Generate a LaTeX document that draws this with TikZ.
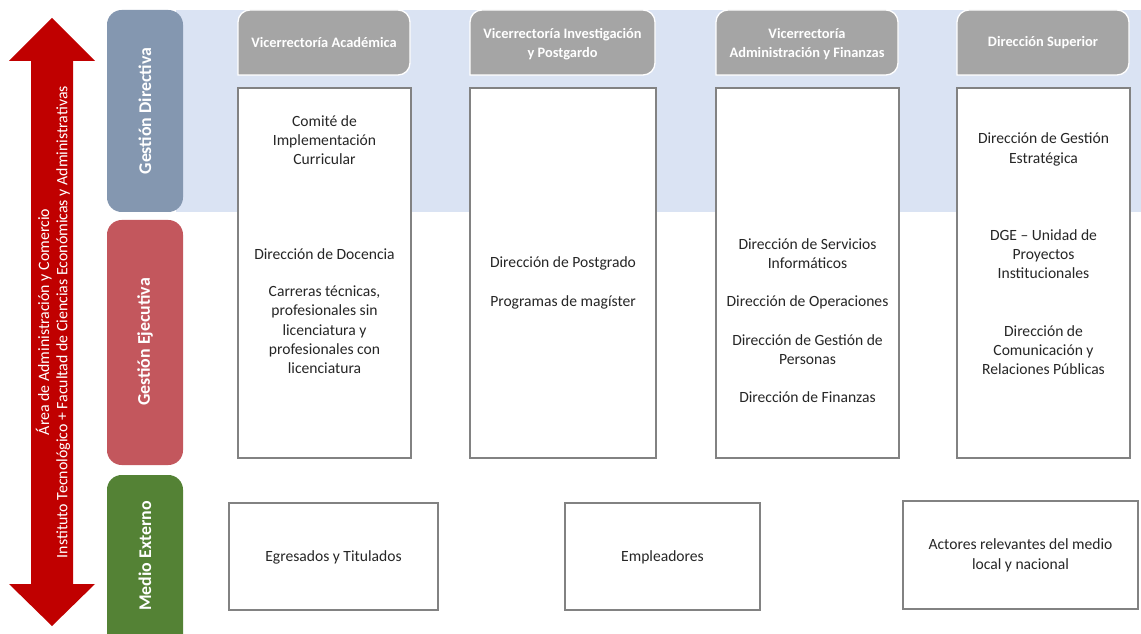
\documentclass[tikz,border=0pt]{standalone}
\usepackage{fontspec}
\setmainfont{Carlito}
\definecolor{bandblue}{RGB}{218,227,243}
\definecolor{dirblue}{RGB}{132,151,176}
\definecolor{ejered}{RGB}{195,87,93}
\definecolor{extgreen}{RGB}{84,130,53}
\definecolor{arrowred}{RGB}{192,0,0}
\definecolor{headgray}{RGB}{165,165,165}
\definecolor{boxgray}{RGB}{130,130,130}
\tikzstyle{sidebox}=[
        rounded corners=11
]
\tikzstyle{headbox}=[
        fill=headgray,
        draw=white,
        line width=1pt
]
\tikzstyle{unitbox}=[
        draw=boxgray,
        fill=white,
        line width=0.9pt
]
\tikzstyle{unittext}=[align=center, text=black!85, font=\fontsize{11.7}{14.5}\selectfont]
\tikzstyle{headtext}=[align=center, text=white, font=\fontsize{10.8}{14.2}\selectfont\bfseries]
\tikzstyle{sidetext}=[rotate=90, text=white, font=\fontsize{13.4}{15}\selectfont\bfseries]

\begin{document}
\begin{tikzpicture}[x=0.75pt, y=-0.75pt]
                    \useasboundingbox (0,0) rectangle (1141,634);
                    \clip (0,0) rectangle (1141,634);

                    % band of the Gestion Directiva level
                    \fill[bandblue] (176,10) rectangle (1141,212);

                    % levels
                    \fill[sidebox, dirblue] (107,10) rectangle (183,212);
                    \fill[sidebox, ejered] (107,220) rectangle (183,465);
                    \fill[sidebox, extgreen] (107,475) rectangle (183,660);
                    \node[sidetext] (directiva) at (145,111) {Gestión Directiva};
                    \node[sidetext] (ejecutiva) at (145,342) {Gestión Ejecutiva};
                    \node[sidetext] (externo) at (145,556) {Medio Externo};

                    % double arrow
                    \fill[arrowred] (52,18) -- (95,61) -- (73,61) -- (73,584) -- (95,584)
                        -- (52,626) -- (9,584) -- (31,584) -- (31,61) -- (9,61) -- cycle;
                    \node[rotate=90, align=center, text=white, font=\fontsize{11.9}{13.6}\selectfont] (area) at (53,322)
                        {Área de Administración y Comercio\\Instituto Tecnológico + Facultad de Ciencias Económicas y Administrativas};

                    % headers
                    \foreach \xa/\xb in {238/410,470/655,716/898,957/1129} {
                        \path[headbox] (\xa,75) [rounded corners=9] -- (\xa,10) -- (\xb,10) -- (\xb,75) [sharp corners] -- cycle;
                    }
                    \node[headtext] (vra) at (324,43) {Vicerrectoría Académica};
                    \node[headtext] (vrip) at (562.5,44.5) {Vicerrectoría Investigación\\y Postgardo};
                    \node[headtext] (vraf) at (807,44.5) {Vicerrectoría\\Administración y Finanzas};
                    \node[headtext] (dsup) at (1043,43) {Dirección Superior};

                    % units
                    \draw[unitbox] (238,88) rectangle (411,458);
                    \draw[unitbox] (470,88) rectangle (656,458);
                    \draw[unitbox] (716,88) rectangle (899,458);
                    \draw[unitbox] (957,88) rectangle (1130,458);

                    \node[unittext] (cic) at (324.5,140) {Comité de\\Implementación\\Curricular};
                    \node[unittext] (ddoc) at (324.5,254) {Dirección de Docencia};
                    \node[unittext] (carr) at (324.5,330) {Carreras técnicas,\\profesionales sin\\licenciatura y\\profesionales con\\licenciatura};

                    \node[unittext] (dpos) at (563,263) {Dirección de Postgrado};
                    \node[unittext] (pmag) at (563,302) {Programas de magíster};

                    \node[unittext] (dsi) at (807.5,253.5) {Dirección de Servicios\\Informáticos};
                    \node[unittext] (dop) at (807.5,302) {Dirección de Operaciones};
                    \node[unittext] (dgp) at (807.5,349.5) {Dirección de Gestión de\\Personas};
                    \node[unittext] (dfin) at (807.5,397) {Dirección de Finanzas};

                    \node[unittext] (dge) at (1043.5,149.5) {Dirección de Gestión\\Estratégica};
                    \node[unittext] (upi) at (1043.5,254) {DGE – Unidad de\\Proyectos\\Institucionales};
                    \node[unittext] (dcrp) at (1043.5,350) {Dirección de\\Comunicación y\\Relaciones Públicas};

                    % external actors
                    \draw[unitbox] (229,503) rectangle (438,610);
                    \draw[unitbox] (565,503) rectangle (760,610);
                    \draw[unitbox] (903,501) rectangle (1138,609);

                    \node[unittext] (egr) at (333.5,557) {Egresados y Titulados};
                    \node[unittext] (emp) at (662.5,557) {Empleadores};
                    \node[unittext] (act) at (1020.5,555.5) {Actores relevantes del medio\\local y nacional};

                \end{tikzpicture}
\end{document}
